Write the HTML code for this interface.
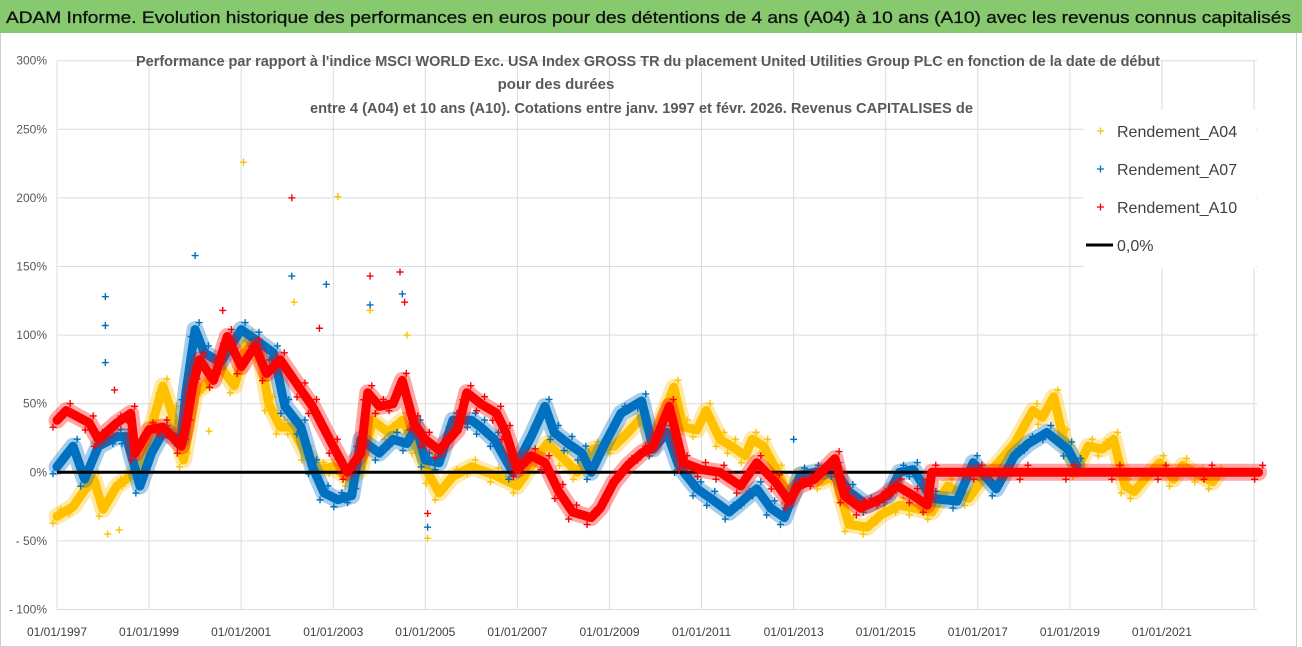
<!DOCTYPE html>
<html><head><meta charset="utf-8"><style>
html,body{margin:0;padding:0;background:#fff;}
svg{display:block;font-family:"Liberation Sans",sans-serif;}
</style></head><body>
<svg id="chart" width="1302" height="647" viewBox="0 0 1302 647">
<rect x="0" y="0" width="1302" height="647" fill="#fff"/>
<rect x="0.5" y="0.5" width="1296" height="646" fill="#fff" stroke="#d0d0d0"/>
<rect x="0" y="0" width="1302" height="33" fill="#86c96f"/>
<text x="6" y="23" font-size="17" fill="#111" stroke="#111" stroke-width="0.3" textLength="1285" lengthAdjust="spacingAndGlyphs">ADAM Informe. Evolution historique des performances en euros pour des détentions de 4 ans (A04) à 10 ans (A10) avec les revenus connus capitalisés</text>
<g id="grid"></g>
<g id="yticks"></g>
<g id="xticks"></g>
<g id="series"></g>
<rect x="1084" y="110" width="172" height="158" fill="#fff"/>
<g font-size="15" fill="#595959" font-weight="bold">
<text x="136" y="66" textLength="1024" lengthAdjust="spacingAndGlyphs">Performance par rapport à l'indice MSCI WORLD Exc. USA Index GROSS TR  du placement United Utilities Group PLC en fonction de la date de début</text>
<text x="556" y="89" text-anchor="middle">pour des durées</text>
<text x="310" y="113" textLength="663" lengthAdjust="spacingAndGlyphs">entre 4 (A04) et 10 ans (A10).  Cotations entre janv. 1997 et févr. 2026. Revenus CAPITALISES de</text>
</g>
<g font-size="16" fill="#404040">
<g><path d="M1097 131h7M1100.5 127.5v7" stroke="#ffc000" stroke-width="1.3"/><text x="1117" y="137">Rendement_A04</text></g>
<g><path d="M1097 169h7M1100.5 165.5v7" stroke="#0070c0" stroke-width="1.3"/><text x="1117" y="175">Rendement_A07</text></g>
<g><path d="M1097 207h7M1100.5 203.5v7" stroke="#ff0000" stroke-width="1.3"/><text x="1117" y="213">Rendement_A10</text></g>
<g><path d="M1086 245h27" stroke="#000" stroke-width="3"/><text x="1117" y="251">0,0%</text></g>
</g>
</svg>
<script>
// ---- data ----
const yTicks = [300,250,200,150,100,50,0,-50,-100];
const xTickYears = [1997,1999,2001,2003,2005,2007,2009,2011,2013,2015,2017,2019,2021];
const a04Dates = [1997.0,1997.35,1997.6,1997.8,1998.0,1998.3,1998.5,1998.8,1999.05,1999.3,1999.5,1999.75,2000.0,2000.2,2000.55,2000.85,2001.15,2001.4,2001.6,2001.85,2002.1,2002.4,2002.7,2003.0,2003.35,2003.6,2003.85,2004.2,2004.5,2004.8,2005.1,2005.3,2005.6,2006.0,2006.5,2007.0,2007.35,2007.65,2008.0,2008.3,2008.65,2009.1,2009.4,2009.7,2009.95,2010.4,2010.6,2010.9,2011.1,2011.4,2011.65,2011.95,2012.1,2012.35,2012.65,2012.9,2013.15,2013.6,2013.9,2014.2,2014.6,2014.9,2015.3,2015.6,2016.0,2016.35,2016.8,2017.1,2017.45,2017.8,2018.2,2018.4,2018.65,2018.85,2019.15,2019.4,2019.7,2019.95,2020.2,2020.4,2020.7,2020.95,2021.25,2021.45,2021.8,2022.1,2022.2];
const a04Values = [-32,-25,-13,-5,-27,-10,-5,4,33,63,43,9,58,63,77,63,97,87,50,33,33,14,2,4,-5,2,38,29,38,19,-3,-15,-3,4,-2,-10,7,21,10,0,17,19,29,40,24,62,33,31,45,24,19,12,24,19,0,-17,-2,-7,-2,-38,-40,-31,-24,-26,-29,-10,-19,-5,7,21,45,40,55,26,2,19,17,24,-10,-14,-2,7,-5,5,-2,-7,-2];
const a07Dates = [1997.0,1997.35,1997.6,1997.9,1998.3,1998.5,1998.8,1999.05,1999.3,1999.7,1999.8,2000.0,2000.2,2000.55,2001.0,2001.3,2001.7,2001.95,2002.3,2002.55,2002.8,2003.1,2003.4,2003.6,2004.0,2004.3,2004.6,2004.8,2005.0,2005.3,2005.6,2006.0,2006.2,2006.5,2006.9,2007.3,2007.6,2007.8,2008.1,2008.4,2008.6,2008.9,2009.25,2009.7,2009.95,2010.25,2010.5,2010.9,2011.2,2011.6,2011.95,2012.2,2012.5,2012.8,2013.15,2013.45,2013.9,2014.2,2014.6,2015.05,2015.3,2015.6,2016.0,2016.55,2016.9,2017.4,2017.8,2018.1,2018.5,2018.95,2019.15];
const a07Values = [4,19,-5,19,26,26,-10,14,29,24,58,104,87,80,104,97,87,48,33,4,-15,-20,-17,24,14,24,21,33,9,7,38,38,33,24,0,26,48,29,21,14,0,21,43,52,17,29,5,-12,-19,-29,-19,-12,-26,-33,-2,0,2,-14,-24,-17,0,2,-19,-21,7,-12,12,21,29,17,5];
const a10Dates = [1997.0,1997.2,1997.7,1997.9,1998.3,1998.6,1998.7,1999.0,1999.3,1999.7,1999.8,1999.95,2000.1,2000.4,2000.7,2001.0,2001.3,2001.55,2001.85,2002.3,2002.55,2003.0,2003.3,2003.6,2003.75,2004.0,2004.3,2004.5,2004.75,2005.0,2005.3,2005.7,2005.9,2006.2,2006.55,2006.75,2007.0,2007.3,2007.6,2007.9,2008.2,2008.6,2008.8,2009.1,2009.4,2009.7,2009.95,2010.3,2010.6,2011.0,2011.4,2011.85,2012.2,2012.6,2012.9,2013.1,2013.45,2013.9,2014.1,2014.45,2014.9,2015.25,2015.6,2015.9,2016.0,2017.0,2018.0,2019.0,2020.0,2021.0,2022.0,2023.1];
const a10Values = [38,45,36,24,36,43,14,31,33,19,33,63,82,67,99,77,92,72,82,60,48,19,0,14,58,48,50,67,36,24,16,31,58,50,43,29,2,12,7,-14,-29,-33,-26,-7,5,14,19,48,7,2,0,-10,7,-7,-21,-10,-5,10,-17,-26,-19,-10,-17,-24,0,0,0,0,0,0,0,0];
const a04Outliers = [[2001.05,226],[2003.1,201],[2002.15,124],[2003.8,118],[1998.1,-45],[1998.35,-42],[2005.05,-48],[2000.3,30],[2004.6,100]];
const a07Outliers = [[1998.05,128],[1998.05,107],[1998.05,80],[2000.0,158],[2002.1,143],[2002.85,137],[2003.8,122],[2004.5,130],[2005.05,-40],[2013.0,24]];
const a10Outliers = [[2002.1,200],[2003.8,143],[2004.45,146],[2004.55,124],[2002.7,105],[2005.05,-30],[1998.25,60],[2000.6,118]];
const zeroLineRange = [1997.0,2016.0];

// ---- axes ----
const X0=57, PX_PER_YEAR=46.04, Y0=472.3, PX_PER_PCT=68.6/50;
function xs(t){return X0+(t-1997)*PX_PER_YEAR;}
function ys(v){return Y0-v*PX_PER_PCT;}
const NS="http://www.w3.org/2000/svg";
function mk(tag,attrs,parent){const e=document.createElementNS(NS,tag);for(const k in attrs)e.setAttribute(k,attrs[k]);parent.appendChild(e);return e;}
const grid=document.getElementById('grid'), yt=document.getElementById('yticks'), xt=document.getElementById('xticks'), ser=document.getElementById('series');
yTicks.forEach(v=>{
  const l=mk('line',{x1:X0,x2:1257,y1:ys(v),y2:ys(v),stroke:'#dcdcdc','stroke-width':1},grid);
  
  
  const t=mk('text',{x:47,y:ys(v)+4,'text-anchor':'end','font-size':12,fill:'#595959'},yt);
  t.textContent=(v<0?'- '+(-v):v)+'%';
  
  
});
xTickYears.concat([2023]).forEach(y=>{
  const l=mk('line',{x1:xs(y),x2:xs(y),y1:ys(300),y2:ys(-100),stroke:'#dcdcdc','stroke-width':1},grid);
  
  
});
xTickYears.forEach(y=>{
  const t=mk('text',{x:xs(y),y:636,'text-anchor':'middle','font-size':12,fill:'#404040'},xt);
  t.textContent='01/01/'+y;
  
  
});
function plus(g,x,y,c){mk('path',{d:`M${x-3.5} ${y}h7M${x} ${y-3.5}v7`,stroke:c,'stroke-width':1.4},g);}
function drawSeries(name,dates,vals,outl,color,w){
  const g=mk('g',{},ser);
  
  
  const pts=dates.map((d,i)=>xs(d).toFixed(1)+','+ys(vals[i]).toFixed(1)).join(' ');
  const h=mk('polyline',{points:pts,fill:'none',stroke:color,'stroke-width':w+8,'stroke-opacity':0.35,'stroke-linejoin':'round','stroke-linecap':'round'},g);
  
  
  const p=mk('polyline',{points:pts,fill:'none',stroke:color,'stroke-width':w,'stroke-linejoin':'round','stroke-linecap':'round'},g);
  
  
  dates.forEach((d,i)=>{plus(g,xs(d)+4,ys(vals[i])-7,color);plus(g,xs(d)-4,ys(vals[i])+7,color);});
  outl.forEach(o=>plus(g,xs(o[0]),ys(o[1]),color));
}
drawSeries('series-a04',a04Dates,a04Values,a04Outliers,'#ffc000',9);
drawSeries('series-a07',a07Dates,a07Values,a07Outliers,'#0070c0',9);
const z=mk('line',{x1:xs(zeroLineRange[0]),x2:xs(zeroLineRange[1]),y1:ys(0),y2:ys(0),stroke:'#000','stroke-width':3},ser);


drawSeries('series-a10',a10Dates,a10Values,a10Outliers,'#ff0000',9);
</script>
</body></html>
